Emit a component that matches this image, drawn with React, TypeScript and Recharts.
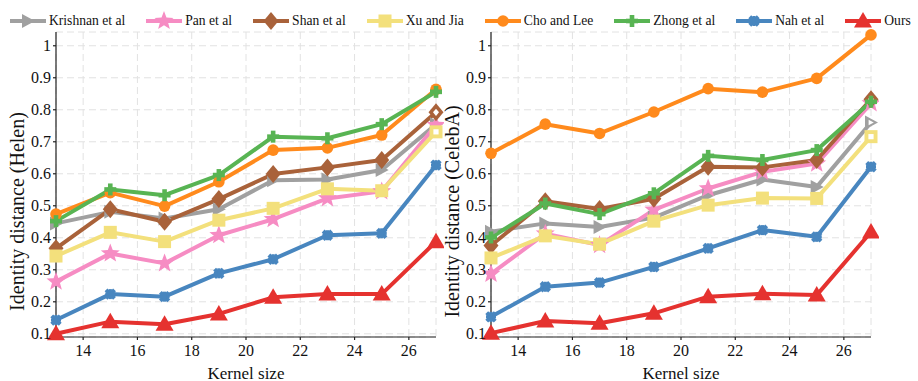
import React from 'react'
import { LineChart, Line, XAxis, YAxis, CartesianGrid } from 'recharts'

const kernelSizes = [13, 15, 17, 19, 21, 23, 25, 27]
const xTicks = [14, 16, 18, 20, 22, 24, 26]
const yTicks = [0.1, 0.2, 0.3, 0.4, 0.5, 0.6, 0.7, 0.8, 0.9, 1]

// Helen
const helenKrishnan = [0.445, 0.481, 0.46, 0.489, 0.58, 0.582, 0.612, 0.755]
const helenPan = [0.263, 0.351, 0.32, 0.408, 0.458, 0.523, 0.545, 0.752]
const helenShan = [0.367, 0.489, 0.45, 0.521, 0.599, 0.62, 0.643, 0.792]
const helenXu = [0.343, 0.417, 0.388, 0.455, 0.492, 0.553, 0.547, 0.731]
const helenCho = [0.474, 0.541, 0.499, 0.575, 0.674, 0.681, 0.721, 0.864]
const helenZhong = [0.452, 0.551, 0.533, 0.596, 0.716, 0.711, 0.755, 0.856]
const helenNah = [0.143, 0.224, 0.216, 0.289, 0.333, 0.408, 0.414, 0.627]
const helenOurs = [0.1, 0.138, 0.13, 0.162, 0.214, 0.224, 0.224, 0.388]

// CelebA
const celebaKrishnan = [0.419, 0.445, 0.434, 0.463, 0.533, 0.582, 0.559, 0.76]
const celebaPan = [0.287, 0.413, 0.377, 0.487, 0.554, 0.606, 0.632, 0.82]
const celebaShan = [0.376, 0.514, 0.49, 0.522, 0.622, 0.62, 0.643, 0.833]
const celebaXu = [0.337, 0.406, 0.38, 0.452, 0.502, 0.524, 0.523, 0.716]
const celebaCho = [0.664, 0.755, 0.726, 0.793, 0.866, 0.855, 0.898, 1.034]
const celebaZhong = [0.401, 0.507, 0.474, 0.539, 0.656, 0.643, 0.674, 0.825]
const celebaNah = [0.153, 0.247, 0.26, 0.309, 0.367, 0.424, 0.403, 0.622]
const celebaOurs = [0.102, 0.14, 0.133, 0.164, 0.216, 0.225, 0.221, 0.418]

type MarkerKind = 'triRight' | 'star' | 'diamond' | 'square' | 'circle' | 'plus' | 'asterisk' | 'triUp'

const methods: { key: string; name: string; color: string; marker: MarkerKind; hollowLast?: boolean }[] = [
  { key: 'krishnan', name: 'Krishnan et al', color: '#a0a0a0', marker: 'triRight', hollowLast: true },
  { key: 'pan', name: 'Pan et al', color: '#f68cc3', marker: 'star' },
  { key: 'shan', name: 'Shan et al', color: '#a9623a', marker: 'diamond', hollowLast: true },
  { key: 'xu', name: 'Xu and Jia', color: '#f3e07c', marker: 'square', hollowLast: true },
  { key: 'cho', name: 'Cho and Lee', color: '#ff8a1c', marker: 'circle' },
  { key: 'zhong', name: 'Zhong et al', color: '#58b453', marker: 'plus' },
  { key: 'nah', name: 'Nah et al', color: '#4886bf', marker: 'asterisk' },
  { key: 'ours', name: 'Ours', color: '#e5322f', marker: 'triUp' },
]

const helenRows = kernelSizes.map((k, i) => ({
  k,
  krishnan: helenKrishnan[i],
  pan: helenPan[i],
  shan: helenShan[i],
  xu: helenXu[i],
  cho: helenCho[i],
  zhong: helenZhong[i],
  nah: helenNah[i],
  ours: helenOurs[i],
}))

const celebaRows = kernelSizes.map((k, i) => ({
  k,
  krishnan: celebaKrishnan[i],
  pan: celebaPan[i],
  shan: celebaShan[i],
  xu: celebaXu[i],
  cho: celebaCho[i],
  zhong: celebaZhong[i],
  nah: celebaNah[i],
  ours: celebaOurs[i],
}))

function starPoints(cx: number, cy: number, R: number, r: number) {
  const pts: string[] = []
  for (let i = 0; i < 10; i++) {
    const a = -Math.PI / 2 + (i * Math.PI) / 5
    const rad = i % 2 === 0 ? R : r
    pts.push(`${cx + rad * Math.cos(a)},${cy + rad * Math.sin(a)}`)
  }
  return pts.join(' ')
}

function shape(kind: MarkerKind, cx: number, cy: number, color: string, s = 1) {
  switch (kind) {
    case 'triRight':
      return <polygon points={`${cx - 6 * s},${cy - 7 * s} ${cx + 7 * s},${cy} ${cx - 6 * s},${cy + 7 * s}`} fill={color} />
    case 'star':
      return <polygon points={starPoints(cx, cy, 10 * s, 4.2 * s)} fill={color} />
    case 'diamond':
      return <polygon points={`${cx},${cy - 9 * s} ${cx + 7.5 * s},${cy} ${cx},${cy + 9 * s} ${cx - 7.5 * s},${cy}`} fill={color} />
    case 'square':
      return <rect x={cx - 6.5 * s} y={cy - 6.5 * s} width={13 * s} height={13 * s} fill={color} />
    case 'circle':
      return <circle cx={cx} cy={cy} r={5.8 * s} fill={color} />
    case 'plus':
      return (
        <g fill={color}>
          <rect x={cx - 6 * s} y={cy - 2.3 * s} width={12 * s} height={4.6 * s} />
          <rect x={cx - 2.3 * s} y={cy - 6 * s} width={4.6 * s} height={12 * s} />
        </g>
      )
    case 'asterisk':
      return (
        <g fill={color}>
          <rect x={cx - 6 * s} y={cy - 2 * s} width={12 * s} height={4 * s} transform={`rotate(45 ${cx} ${cy})`} />
          <rect x={cx - 6 * s} y={cy - 2 * s} width={12 * s} height={4 * s} transform={`rotate(-45 ${cx} ${cy})`} />
          <rect x={cx - 5 * s} y={cy - 1.6 * s} width={10 * s} height={3.2 * s} />
          <rect x={cx - 1.6 * s} y={cy - 5 * s} width={3.2 * s} height={10 * s} />
        </g>
      )
    case 'triUp':
      return <polygon points={`${cx},${cy - 9 * s} ${cx + 9 * s},${cy + 6.5 * s} ${cx - 9 * s},${cy + 6.5 * s}`} fill={color} />
  }
}

function makeDot(kind: MarkerKind, color: string, hollowLast?: boolean) {
  return (props: any) => {
    const { cx, cy, index } = props
    if (cx == null || cy == null) return <g key={`d-${index}`} />
    const last = hollowLast && index === kernelSizes.length - 1
    return (
      <g key={`d-${index}`}>
        {shape(kind, cx, cy, color)}
        {last ? shape(kind, cx, cy, '#ffffff', 0.4) : null}
      </g>
    )
  }
}

const font = '"Liberation Serif", "Times New Roman", Times, Tinos, "Nimbus Roman", serif'
const tickStyle = { fill: '#111', fontSize: 16, fontFamily: font }

function Panel({ rows, yLabel, left }: { rows: any[]; yLabel: string; left: number }) {
  return (
    <div style={{ position: 'absolute', left, top: 0 }}>
      <LineChart width={444} height={381} data={rows} margin={{ top: 32, right: 8, bottom: 14, left: 0 }}>
        <CartesianGrid stroke="#e2e2e2" strokeDasharray="7 4" strokeWidth={1} />
        <XAxis
          dataKey="k"
          type="number"
          domain={[13, 27]}
          ticks={xTicks}
          height={30}
          stroke="#222"
          strokeWidth={1.2}
          tickSize={3}
          tickMargin={5}
          tick={tickStyle}
          label={{
            content: (p: any) => {
              const vb = p.viewBox || { x: 56, y: 337, width: 380 }
              return (
                <text
                  x={vb.x + vb.width / 2}
                  y={vb.y + 36}
                  textAnchor="middle"
                  dominantBaseline="central"
                  style={{ fill: '#111', fontSize: 17, fontFamily: font }}
                >
                  Kernel size
                </text>
              )
            },
          }}
        />
        <YAxis
          type="number"
          domain={[0.09, 1.043]}
          ticks={yTicks}
          width={56}
          stroke="#222"
          strokeWidth={1.2}
          tickSize={3}
          tickMargin={2}
          tick={tickStyle}
          tickFormatter={(v: number) => (v === 1 ? '1' : v.toFixed(1))}
          label={{
            content: (p: any) => {
              const vb = p.viewBox || { x: 0, y: 32, height: 305 }
              const x = vb.x + 17
              const y = vb.y + vb.height / 2 + 27
              return (
                <text
                  x={x}
                  y={y}
                  transform={`rotate(-90 ${x} ${y})`}
                  textAnchor="middle"
                  dominantBaseline="central"
                  style={{ fill: '#111', fontSize: 20, fontFamily: font }}
                >
                  {yLabel}
                </text>
              )
            },
          }}
        />
        {methods.map((m) => (
          <Line
            key={m.key}
            dataKey={m.key}
            name={m.name}
            stroke={m.color}
            strokeWidth={4}
            strokeLinejoin="round"
            dot={makeDot(m.marker, m.color, m.hollowLast)}
            activeDot={false}
            isAnimationActive={false}
          />
        ))}
      </LineChart>
    </div>
  )
}

function LegendRow() {
  return (
    <div
      style={{
        position: 'absolute',
        left: 10,
        top: 11,
        display: 'flex',
        alignItems: 'center',
        gap: 21,
        fontFamily: font,
        fontSize: 13.6,
        color: '#111',
        whiteSpace: 'nowrap',
      }}
    >
      {methods.map((m) => (
        <div key={m.key} style={{ display: 'flex', alignItems: 'center', gap: 3 }}>
          <svg width={36} height={20}>
            <line x1={0} y1={10} x2={36} y2={10} stroke={m.color} strokeWidth={4} />
            {shape(m.marker, 18, 10, m.color)}
          </svg>
          <span>{m.name}</span>
        </div>
      ))}
    </div>
  )
}

export default function App() {
  return (
    <div style={{ position: 'absolute', left: 0, top: 0, width: 918, height: 381, background: '#fff', overflow: 'hidden' }}>
      <Panel rows={helenRows} yLabel="Identity distance (Helen)" left={0} />
      <Panel rows={celebaRows} yLabel="Identity distance (CelebA)" left={435} />
      <LegendRow />
    </div>
  )
}
